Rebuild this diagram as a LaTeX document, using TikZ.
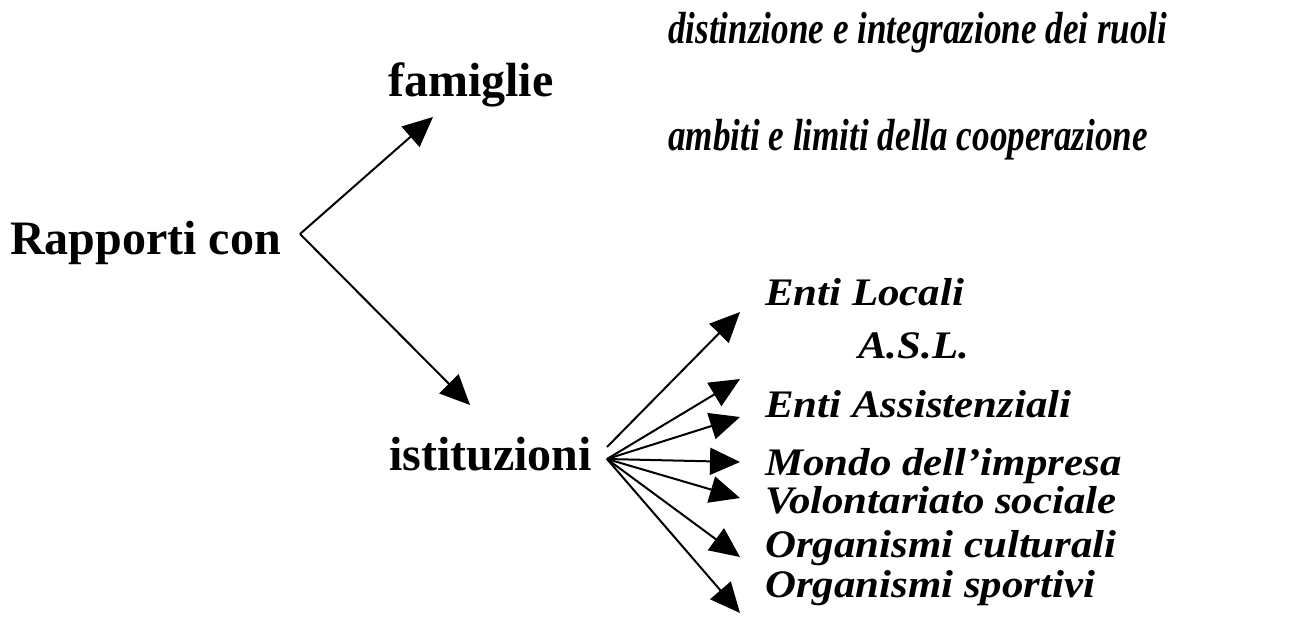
\documentclass[tikz,border=0pt]{standalone}
\usepackage{fontspec}
\setmainfont{Liberation Serif}
\newfontfamily\narrowfont[FakeStretch=0.78]{Liberation Serif}
\newfontfamily\widefont[FakeStretch=1.1]{Liberation Serif}
\usetikzlibrary{arrows.meta, positioning}
\tikzset{
    title/.style={anchor=base west, inner sep=0pt, font=\fontsize{48}{50}\selectfont\bfseries}, % bold upright labels
    topic/.style={anchor=base west, inner sep=0pt, font=\narrowfont\fontsize{45}{48}\selectfont\bfseries\itshape}, % condensed italic lines
    entity/.style={anchor=base west, inner sep=0pt, font=\widefont\fontsize{39}{42}\selectfont\bfseries\itshape}, % wide italic list
}
\tikzstyle{arrow} = [line width=2pt, -{Triangle[length=30pt,width=27pt]}]

\begin{document}
\begin{tikzpicture}[x=1pt, y=-1pt]
    \useasboundingbox (0,0) rectangle (1292,625);

    \node[title] (rapp) at (10,254) {Rapporti con};
    \node[title] (fam) at (388,96) {famiglie};
    \node[title] (ist) at (389,470) {istituzioni};

    \node[topic] (ruoli) at (668,43) {distinzione e integrazione dei ruoli};
    \node[topic] (coop) at (668,150) {ambiti e limiti della cooperazione};

    \node[entity] (enti) at (765,305) {Enti Locali};
    \node[entity] (asl) at (858,358) {A.S.L.};
    \node[entity] (assist) at (765,417) {Enti Assistenziali};
    \node[entity] (impresa) at (765,475) {Mondo dell’impresa};
    \node[entity] (volont) at (765,513) {Volontariato sociale};
    \node[entity] (cult) at (765,557) {Organismi culturali};
    \node[entity] (sport) at (765,597) {Organismi sportivi};

    % branch points and arrow ends
    \coordinate (hub) at (300,234);
    \coordinate (famtip) at (433,117);
    \coordinate (isttip) at (470,405);
    \coordinate (fan) at (607,459);
    \foreach \y [count=\i] in {312,379,417,462,498,557,613}
        \coordinate (tip\i) at (740,\y);

    \draw[arrow] (hub) -- (famtip);
    \draw[arrow] (hub) -- (isttip);
    \draw[arrow] (607,447) -- (tip1);
    \foreach \i in {2,...,7}
        \draw[arrow] (fan) -- (tip\i);
\end{tikzpicture}
\end{document}
